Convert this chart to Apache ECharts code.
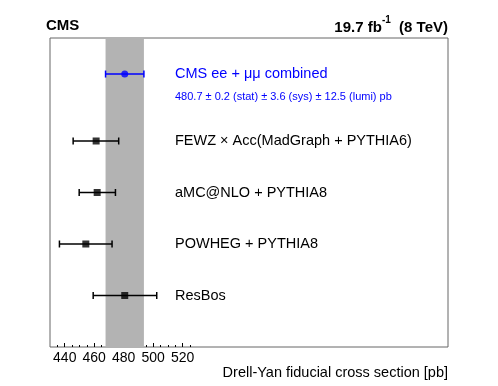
<!DOCTYPE html>
<html>
<head>
<meta charset="utf-8">
<script src="https://cdn.jsdelivr.net/npm/echarts@6.0.0/dist/echarts.min.js"></script>
<style>
  html, body { margin: 0; padding: 0; background: #fff; }
  #chart { width: 498px; height: 386px; }
</style>
</head>
<body>
<div id="chart"></div>
<script>
// measurement
const cmsValue = 480.7
const cmsStat = 0.2
const cmsSys = 3.6
const cmsLumi = 12.5
const cmsRow = 5.3

// predictions: label, central value, low edge, high edge, row
const predLabels = ['FEWZ × Acc(MadGraph + PYTHIA6)', 'aMC@NLO + PYTHIA8', 'POWHEG + PYTHIA8', 'ResBos']
const predValues = [461.3, 462.0, 454.3, 480.7]
const predLow = [445.7, 449.8, 436.4, 459.3]
const predHigh = [476.6, 474.4, 472.1, 502.4]
const predRows = [4, 3, 2, 1]

const majorTicks = [440, 460, 480, 500, 520]
const minorTicks = [435, 445, 450, 455, 465, 470, 475, 485, 490, 495, 505, 510, 515, 525]

const cmsErr = Math.sqrt(cmsStat * cmsStat + cmsSys * cmsSys + cmsLumi * cmsLumi)
const font = 'Liberation Sans, Arial, Helvetica, sans-serif'
const labelX = 175 // text column, px

const chart = echarts.init(document.getElementById('chart'))

// horizontal error bar with caps + text label to the right
function errorBar(params, api) {
  const y = api.value(3)
  const lo = api.coord([api.value(1), y])
  const hi = api.coord([api.value(2), y])
  const color = api.value(4) === 1 ? '#0000ff' : '#000'
  const cap = 3.5
  const children = [
    { type: 'line', shape: { x1: lo[0], y1: lo[1], x2: hi[0], y2: hi[1] }, style: { stroke: color, lineWidth: 1.5 } },
    { type: 'line', shape: { x1: lo[0], y1: lo[1] - cap, x2: lo[0], y2: lo[1] + cap }, style: { stroke: color, lineWidth: 1.5 } },
    { type: 'line', shape: { x1: hi[0], y1: hi[1] - cap, x2: hi[0], y2: hi[1] + cap }, style: { stroke: color, lineWidth: 1.5 } },
    {
      type: 'text',
      x: labelX,
      y: lo[1],
      style: { text: api.value(5), fill: color, font: '14.5px ' + font, textVerticalAlign: 'middle' }
    }
  ]
  return { type: 'group', children }
}

const barData = predLabels.map((l, i) => [predValues[i], predLow[i], predHigh[i], predRows[i], 0, l])
barData.unshift([cmsValue, cmsValue - cmsErr, cmsValue + cmsErr, cmsRow, 1, 'CMS ee + μμ combined'])

const option = {
  animation: false,
  grid: {
    left: 50,
    right: 50,
    top: 38,
    bottom: 39,
    show: true,
    borderColor: '#666',
    borderWidth: 1,
    backgroundColor: 'transparent'
  },
  xAxis: [
    {
      type: 'value',
      min: 430,
      max: 700,
      axisLine: { show: false },
      splitLine: { show: false },
      axisTick: { show: true, inside: true, length: 4, customValues: majorTicks, lineStyle: { color: '#000' } },
      axisLabel: { customValues: majorTicks, color: '#000', fontSize: 14, fontFamily: font, margin: 4 },
      name: 'Drell-Yan fiducial cross section [pb]',
      nameLocation: 'end',
      nameGap: 0,
      nameTextStyle: { color: '#000', fontSize: 14.5, fontFamily: font, align: 'right', verticalAlign: 'top', padding: [18, 0, 0, 0] }
    },
    {
      type: 'value',
      min: 430,
      max: 700,
      position: 'bottom',
      axisLine: { show: false },
      splitLine: { show: false },
      axisLabel: { show: false },
      axisTick: { show: true, inside: true, length: 2, customValues: minorTicks, lineStyle: { color: '#000' } }
    }
  ],
  yAxis: {
    type: 'value',
    min: 0,
    max: 6,
    show: false
  },
  series: [
    {
      type: 'custom',
      renderItem: errorBar,
      data: barData,
      encode: { x: [1, 2], y: 3 },
      z: 3,
      markArea: {
        silent: true,
        itemStyle: { color: '#b3b3b3' },
        data: [[{ xAxis: cmsValue - cmsErr }, { xAxis: cmsValue + cmsErr }]]
      }
    },
    {
      type: 'scatter',
      symbol: 'rect',
      symbolSize: 7,
      itemStyle: { color: '#000' },
      data: predValues.map((v, i) => [v, predRows[i]]),
      z: 4
    },
    {
      type: 'scatter',
      symbol: 'circle',
      symbolSize: 7,
      itemStyle: { color: '#0000ff' },
      data: [[cmsValue, cmsRow]],
      z: 4
    }
  ],
  graphic: [
    { type: 'text', left: 46, top: 18, style: { text: 'CMS', font: 'bold 15px ' + font, fill: '#000' } },
    {
      type: 'text',
      right: 50,
      top: 15,
      style: {
        text: '{n|19.7 fb}{s|-1}{n|  (8 TeV)}',
        rich: {
          n: { font: 'bold 15px ' + font, fill: '#000', verticalAlign: 'bottom', lineHeight: 20 },
          s: { font: 'bold 10px ' + font, fill: '#000', verticalAlign: 'top', lineHeight: 20 }
        }
      }
    },
    {
      type: 'text',
      left: labelX,
      top: 91,
      style: {
        text: cmsValue.toFixed(1) + ' ± ' + cmsStat + ' (stat) ± ' + cmsSys + ' (sys) ± ' + cmsLumi + ' (lumi) pb',
        font: '11px ' + font,
        fill: '#0000ff'
      }
    }
  ]
}

chart.setOption(option)
</script>
</body>
</html>
